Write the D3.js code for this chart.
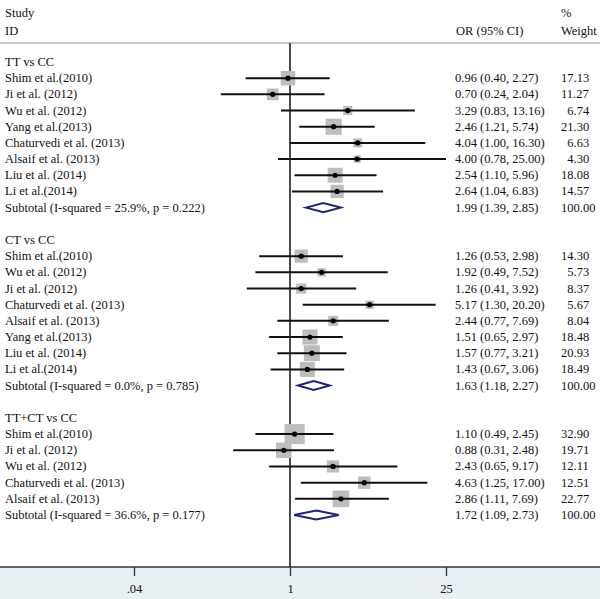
<!DOCTYPE html>
<html><head><meta charset="utf-8">
<script src="https://cdnjs.cloudflare.com/ajax/libs/d3/7.8.5/d3.min.js"></script>
<style>body{margin:0;background:#fff}svg{display:block}text{font-family:"Liberation Serif","Times New Roman",serif;font-size:12.5px;fill:#111}</style>
</head><body><div id="chart"></div>
<script>
const groups = ["TT vs CC", "CT vs CC", "TT+CT vs CC"];
const studiesTT = ["Shim et al.(2010)", "Ji et al. (2012)", "Wu et al. (2012)", "Yang et al.(2013)", "Chaturvedi et al. (2013)", "Alsaif  et al. (2013)", "Liu et al. (2014)", "Li et al.(2014)"];
const orTT = [0.96, 0.70, 3.29, 2.46, 4.04, 4.00, 2.54, 2.64];
const lowTT = [0.40, 0.24, 0.83, 1.21, 1.00, 0.78, 1.10, 1.04];
const highTT = [2.27, 2.04, 13.16, 5.74, 16.30, 25.00, 5.96, 6.83];
const weightTT = [17.13, 11.27, 6.74, 21.30, 6.63, 4.30, 18.08, 14.57];
const subTT = {label: "Subtotal (I-squared = 25.9%, p = 0.222)", or: 1.99, low: 1.39, high: 2.85, weight: 100.00};

const studiesCT = ["Shim et al.(2010)", "Wu et al. (2012)", "Ji et al. (2012)", "Chaturvedi et al. (2013)", "Alsaif  et al. (2013)", "Yang et al.(2013)", "Liu et al. (2014)", "Li et al.(2014)"];
const orCT = [1.26, 1.92, 1.26, 5.17, 2.44, 1.51, 1.57, 1.43];
const lowCT = [0.53, 0.49, 0.41, 1.30, 0.77, 0.65, 0.77, 0.67];
const highCT = [2.98, 7.52, 3.92, 20.20, 7.69, 2.97, 3.21, 3.06];
const weightCT = [14.30, 5.73, 8.37, 5.67, 8.04, 18.48, 20.93, 18.49];
const subCT = {label: "Subtotal (I-squared = 0.0%, p = 0.785)", or: 1.63, low: 1.18, high: 2.27, weight: 100.00};

const studiesAll = ["Shim et al.(2010)", "Ji et al. (2012)", "Wu et al. (2012)", "Chaturvedi et al. (2013)", "Alsaif  et al. (2013)"];
const orAll = [1.10, 0.88, 2.43, 4.63, 2.86];
const lowAll = [0.49, 0.31, 0.65, 1.25, 1.11];
const highAll = [2.45, 2.48, 9.17, 17.00, 7.69];
const weightAll = [32.90, 19.71, 12.11, 12.51, 22.77];
const subAll = {label: "Subtotal (I-squared = 36.6%, p = 0.177)", or: 1.72, low: 1.09, high: 2.73, weight: 100.00};

const tickValues = [0.04, 1, 25];
const tickLabels = [".04", "1", "25"];

// build rows
const sets = [
  [groups[0], studiesTT, orTT, lowTT, highTT, weightTT, subTT],
  [groups[1], studiesCT, orCT, lowCT, highCT, weightCT, subCT],
  [groups[2], studiesAll, orAll, lowAll, highAll, weightAll, subAll]
];
const rows = [];
sets.forEach((s, gi) => {
  rows.push({type: "head", label: s[0]});
  s[1].forEach((name, i) => rows.push({type: "study", label: name, or: s[2][i], low: s[3][i], high: s[4][i], weight: s[5][i]}));
  rows.push(Object.assign({type: "sub"}, s[6]));
  if (gi < sets.length - 1) rows.push({type: "blank"});
});

const W = 600, H = 599;
const svg = d3.select("#chart").append("svg").attr("width", W).attr("height", H);
const x = d3.scaleLog().domain([0.04, 25]).range([134, 446]);
const y = d3.scaleLinear().domain([0, rows.length - 1]).range([62, 515]);
const fmt = d3.format(".2f");

// bottom band
svg.append("rect").attr("x", 0).attr("y", 567).attr("width", W).attr("height", H - 567).attr("fill", "#e8f0f4");
// header separator
svg.append("line").attr("x1", 0).attr("x2", W).attr("y1", 43).attr("y2", 43).attr("stroke", "#b8b8b8").attr("stroke-width", 1.5);
// axis
const axis = d3.axisBottom(x).tickValues(tickValues).tickFormat((d, i) => tickLabels[i]).tickSize(9).tickSizeOuter(0);
const ag = svg.append("g").attr("transform", "translate(0,567)").call(axis);
ag.select(".domain").remove();
ag.selectAll(".tick line").attr("stroke", "#333").attr("stroke-width", 1.3);
ag.selectAll(".tick text").attr("y", 17).style("font-family", '"Liberation Serif",serif').style("font-size", "12.5px").attr("fill", "#222");
svg.append("line").attr("x1", 0).attr("x2", W).attr("y1", 567).attr("y2", 567).attr("stroke", "#333").attr("stroke-width", 1.5);

// null line
svg.append("line").attr("x1", x(1)).attr("x2", x(1)).attr("y1", 43).attr("y2", 567).attr("stroke", "#111").attr("stroke-width", 1.5);

// headers
svg.append("text").attr("x", 5).attr("y", 17).text("Study");
svg.append("text").attr("x", 5).attr("y", 35).text("ID");
svg.append("text").attr("x", 456).attr("y", 35).text("OR (95% CI)");
svg.append("text").attr("x", 561).attr("y", 17).text("%");
svg.append("text").attr("x", 561).attr("y", 35).text("Weight");

const g = svg.append("g");
rows.forEach((r, i) => {
  const cy = y(i);
  if (r.type === "blank") return;
  g.append("text").attr("x", 5).attr("y", cy + 4).text(r.label);
  if (r.type === "head") return;
  g.append("text").attr("x", 455).attr("y", cy + 4).text(`${fmt(r.or)} (${fmt(r.low)}, ${fmt(r.high)})`);
  g.append("text").attr("x", 561 + (r.weight < 10 ? 6.25 : 0)).attr("y", cy + 4).text(fmt(r.weight));
  if (r.type === "study") {
    const s = 3.5 * Math.sqrt(r.weight);
    g.append("rect").attr("x", x(r.or) - s / 2).attr("y", cy - s / 2).attr("width", s).attr("height", s).attr("fill", "#bdbdbd");
    g.append("line").attr("x1", x(r.low)).attr("x2", x(r.high)).attr("y1", cy).attr("y2", cy).attr("stroke", "#111").attr("stroke-width", 2);
    g.append("circle").attr("cx", x(r.or)).attr("cy", cy).attr("r", 2.6).attr("fill", "#000");
  } else {
    const pts = [[x(r.low), cy], [x(r.or), cy - 4.5], [x(r.high), cy], [x(r.or), cy + 4.5]];
    g.append("polygon").attr("points", pts.map(p => p.join(",")).join(" ")).attr("fill", "#fff").attr("stroke", "#1c2473").attr("stroke-width", 2);
  }
});
</script></body></html>
